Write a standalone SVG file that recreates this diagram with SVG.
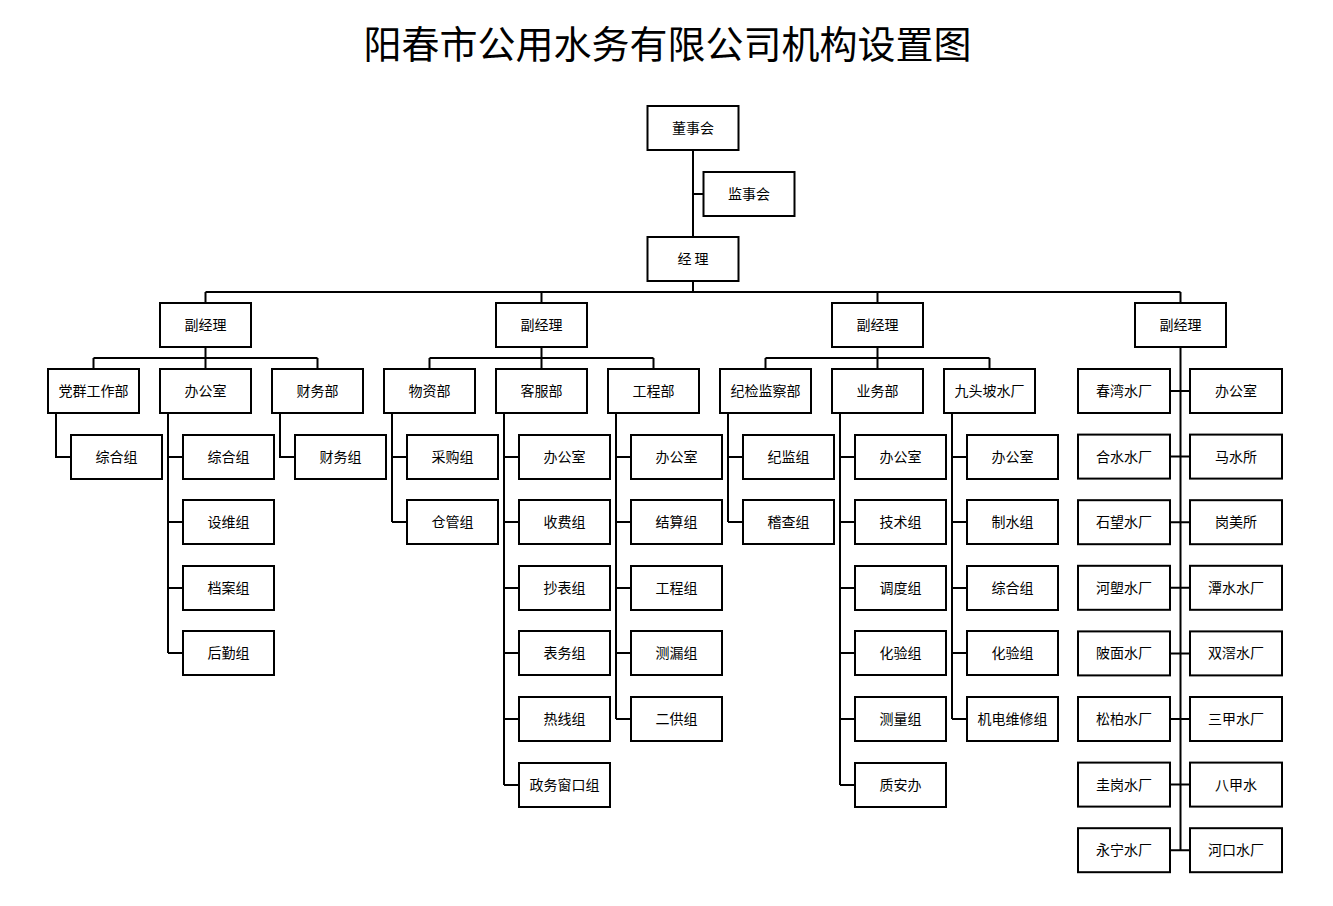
<svg xmlns="http://www.w3.org/2000/svg" width="1333" height="906" viewBox="0 0 1333 906">
<style>
.b{fill:#fff;stroke:#000;stroke-width:2}
.t{font-family:"Noto Sans CJK SC","Liberation Sans",sans-serif;font-size:14px;fill:#000;text-anchor:middle}
.title{font-family:"Noto Sans CJK SC","Liberation Sans",sans-serif;font-size:38px;fill:#000;text-anchor:middle}
.c{fill:none;stroke:#000;stroke-width:2}
</style>
<rect width="1333" height="906" fill="#fff"/>
<text class="title" x="667.5" y="58">阳春市公用水务有限公司机构设置图</text>
<g id="connectors" class="c">
<path d="M693 150V237M693 194H703.5M693 281V292M205.5 292H1180.5M205.5 292V303M541.5 292V303M877.5 292V303M1180.5 292V303"/>
<path d="M205.5 347V358M93.5 358H317.5M93.5 358V369M205.5 358V369M317.5 358V369"/>
<path d="M541.5 347V358M429.5 358H653.5M429.5 358V369M541.5 358V369M653.5 358V369"/>
<path d="M877.5 347V358M765.5 358H989.5M765.5 358V369M877.5 358V369M989.5 358V369"/>
<path d="M56 413V457H71"/>
<path d="M168 413V653M168 457H183M168 522H183M168 588H183M168 653H183"/>
<path d="M280 413V457H295"/>
<path d="M392 413V522M392 457H407M392 522H407"/>
<path d="M504 413V785M504 457H519M504 522H519M504 588H519M504 653H519M504 719H519M504 785H519"/>
<path d="M616 413V719M616 457H631M616 522H631M616 588H631M616 653H631M616 719H631"/>
<path d="M728 413V522M728 457H743M728 522H743"/>
<path d="M840 413V785M840 457H855M840 522H855M840 588H855M840 653H855M840 719H855M840 785H855"/>
<path d="M952 413V719M952 457H967M952 522H967M952 588H967M952 653H967M952 719H967"/>
<path d="M1180.5 347V850.5M1170 391H1190M1170 456.6H1190M1170 522.2H1190M1170 587.8H1190M1170 653.4H1190M1170 719H1190M1170 784.6H1190M1170 850.2H1190"/>
</g>
<g id="n-dongshihui"><rect class="b" x="647.5" y="106" width="91" height="44"/><text class="t" x="693" y="133">董事会</text></g>
<g id="n-jianshihui"><rect class="b" x="703.5" y="172" width="91" height="44"/><text class="t" x="749" y="199">监事会</text></g>
<g id="n-jingli"><rect class="b" x="647.5" y="237" width="91" height="44"/><text class="t" x="693" y="264">经 理</text></g>
<g id="n-fjl1"><rect class="b" x="160" y="303" width="91" height="44"/><text class="t" x="205.5" y="330">副经理</text></g>
<g id="n-fjl2"><rect class="b" x="496" y="303" width="91" height="44"/><text class="t" x="541.5" y="330">副经理</text></g>
<g id="n-fjl3"><rect class="b" x="832" y="303" width="91" height="44"/><text class="t" x="877.5" y="330">副经理</text></g>
<g id="n-fjl4"><rect class="b" x="1135" y="303" width="91" height="44"/><text class="t" x="1180.5" y="330">副经理</text></g>
<g id="n-dangqun"><rect class="b" x="48" y="369" width="91" height="44"/><text class="t" x="93.5" y="396">党群工作部</text></g>
<g id="n-bangongshi"><rect class="b" x="160" y="369" width="91" height="44"/><text class="t" x="205.5" y="396">办公室</text></g>
<g id="n-caiwubu"><rect class="b" x="272" y="369" width="91" height="44"/><text class="t" x="317.5" y="396">财务部</text></g>
<g id="n-wuzibu"><rect class="b" x="384" y="369" width="91" height="44"/><text class="t" x="429.5" y="396">物资部</text></g>
<g id="n-kefubu"><rect class="b" x="496" y="369" width="91" height="44"/><text class="t" x="541.5" y="396">客服部</text></g>
<g id="n-gongchengbu"><rect class="b" x="608" y="369" width="91" height="44"/><text class="t" x="653.5" y="396">工程部</text></g>
<g id="n-jijian"><rect class="b" x="720" y="369" width="91" height="44"/><text class="t" x="765.5" y="396">纪检监察部</text></g>
<g id="n-yewubu"><rect class="b" x="832" y="369" width="91" height="44"/><text class="t" x="877.5" y="396">业务部</text></g>
<g id="n-jiutoupo"><rect class="b" x="944" y="369" width="91" height="44"/><text class="t" x="989.5" y="396">九头坡水厂</text></g>
<g id="n-c0-1"><rect class="b" x="71" y="435" width="91" height="44"/><text class="t" x="116.5" y="462">综合组</text></g>
<g id="n-c1-1"><rect class="b" x="183" y="435" width="91" height="44"/><text class="t" x="228.5" y="462">综合组</text></g>
<g id="n-c1-2"><rect class="b" x="183" y="500" width="91" height="44"/><text class="t" x="228.5" y="527">设维组</text></g>
<g id="n-c1-3"><rect class="b" x="183" y="566" width="91" height="44"/><text class="t" x="228.5" y="593">档案组</text></g>
<g id="n-c1-4"><rect class="b" x="183" y="631" width="91" height="44"/><text class="t" x="228.5" y="658">后勤组</text></g>
<g id="n-c2-1"><rect class="b" x="295" y="435" width="91" height="44"/><text class="t" x="340.5" y="462">财务组</text></g>
<g id="n-c3-1"><rect class="b" x="407" y="435" width="91" height="44"/><text class="t" x="452.5" y="462">采购组</text></g>
<g id="n-c3-2"><rect class="b" x="407" y="500" width="91" height="44"/><text class="t" x="452.5" y="527">仓管组</text></g>
<g id="n-c4-1"><rect class="b" x="519" y="435" width="91" height="44"/><text class="t" x="564.5" y="462">办公室</text></g>
<g id="n-c4-2"><rect class="b" x="519" y="500" width="91" height="44"/><text class="t" x="564.5" y="527">收费组</text></g>
<g id="n-c4-3"><rect class="b" x="519" y="566" width="91" height="44"/><text class="t" x="564.5" y="593">抄表组</text></g>
<g id="n-c4-4"><rect class="b" x="519" y="631" width="91" height="44"/><text class="t" x="564.5" y="658">表务组</text></g>
<g id="n-c4-5"><rect class="b" x="519" y="697" width="91" height="44"/><text class="t" x="564.5" y="724">热线组</text></g>
<g id="n-c4-6"><rect class="b" x="519" y="763" width="91" height="44"/><text class="t" x="564.5" y="790">政务窗口组</text></g>
<g id="n-c5-1"><rect class="b" x="631" y="435" width="91" height="44"/><text class="t" x="676.5" y="462">办公室</text></g>
<g id="n-c5-2"><rect class="b" x="631" y="500" width="91" height="44"/><text class="t" x="676.5" y="527">结算组</text></g>
<g id="n-c5-3"><rect class="b" x="631" y="566" width="91" height="44"/><text class="t" x="676.5" y="593">工程组</text></g>
<g id="n-c5-4"><rect class="b" x="631" y="631" width="91" height="44"/><text class="t" x="676.5" y="658">测漏组</text></g>
<g id="n-c5-5"><rect class="b" x="631" y="697" width="91" height="44"/><text class="t" x="676.5" y="724">二供组</text></g>
<g id="n-c6-1"><rect class="b" x="743" y="435" width="91" height="44"/><text class="t" x="788.5" y="462">纪监组</text></g>
<g id="n-c6-2"><rect class="b" x="743" y="500" width="91" height="44"/><text class="t" x="788.5" y="527">稽查组</text></g>
<g id="n-c7-1"><rect class="b" x="855" y="435" width="91" height="44"/><text class="t" x="900.5" y="462">办公室</text></g>
<g id="n-c7-2"><rect class="b" x="855" y="500" width="91" height="44"/><text class="t" x="900.5" y="527">技术组</text></g>
<g id="n-c7-3"><rect class="b" x="855" y="566" width="91" height="44"/><text class="t" x="900.5" y="593">调度组</text></g>
<g id="n-c7-4"><rect class="b" x="855" y="631" width="91" height="44"/><text class="t" x="900.5" y="658">化验组</text></g>
<g id="n-c7-5"><rect class="b" x="855" y="697" width="91" height="44"/><text class="t" x="900.5" y="724">测量组</text></g>
<g id="n-c7-6"><rect class="b" x="855" y="763" width="91" height="44"/><text class="t" x="900.5" y="790">质安办</text></g>
<g id="n-c8-1"><rect class="b" x="967" y="435" width="91" height="44"/><text class="t" x="1012.5" y="462">办公室</text></g>
<g id="n-c8-2"><rect class="b" x="967" y="500" width="91" height="44"/><text class="t" x="1012.5" y="527">制水组</text></g>
<g id="n-c8-3"><rect class="b" x="967" y="566" width="91" height="44"/><text class="t" x="1012.5" y="593">综合组</text></g>
<g id="n-c8-4"><rect class="b" x="967" y="631" width="91" height="44"/><text class="t" x="1012.5" y="658">化验组</text></g>
<g id="n-c8-5"><rect class="b" x="967" y="697" width="91" height="44"/><text class="t" x="1012.5" y="724">机电维修组</text></g>
<g id="n-l1"><rect class="b" x="1078" y="369" width="92" height="44"/><text class="t" x="1124" y="396">春湾水厂</text></g>
<g id="n-l2"><rect class="b" x="1078" y="434.6" width="92" height="44"/><text class="t" x="1124" y="461.6">合水水厂</text></g>
<g id="n-l3"><rect class="b" x="1078" y="500.2" width="92" height="44"/><text class="t" x="1124" y="527.2">石望水厂</text></g>
<g id="n-l4"><rect class="b" x="1078" y="565.8" width="92" height="44"/><text class="t" x="1124" y="592.8">河塱水厂</text></g>
<g id="n-l5"><rect class="b" x="1078" y="631.4" width="92" height="44"/><text class="t" x="1124" y="658.4">陂面水厂</text></g>
<g id="n-l6"><rect class="b" x="1078" y="697" width="92" height="44"/><text class="t" x="1124" y="724">松柏水厂</text></g>
<g id="n-l7"><rect class="b" x="1078" y="762.6" width="92" height="44"/><text class="t" x="1124" y="789.6">圭岗水厂</text></g>
<g id="n-l8"><rect class="b" x="1078" y="828.2" width="92" height="44"/><text class="t" x="1124" y="855.2">永宁水厂</text></g>
<g id="n-r1"><rect class="b" x="1190" y="369" width="92" height="44"/><text class="t" x="1236" y="396">办公室</text></g>
<g id="n-r2"><rect class="b" x="1190" y="434.6" width="92" height="44"/><text class="t" x="1236" y="461.6">马水所</text></g>
<g id="n-r3"><rect class="b" x="1190" y="500.2" width="92" height="44"/><text class="t" x="1236" y="527.2">岗美所</text></g>
<g id="n-r4"><rect class="b" x="1190" y="565.8" width="92" height="44"/><text class="t" x="1236" y="592.8">潭水水厂</text></g>
<g id="n-r5"><rect class="b" x="1190" y="631.4" width="92" height="44"/><text class="t" x="1236" y="658.4">双滘水厂</text></g>
<g id="n-r6"><rect class="b" x="1190" y="697" width="92" height="44"/><text class="t" x="1236" y="724">三甲水厂</text></g>
<g id="n-r7"><rect class="b" x="1190" y="762.6" width="92" height="44"/><text class="t" x="1236" y="789.6">八甲水</text></g>
<g id="n-r8"><rect class="b" x="1190" y="828.2" width="92" height="44"/><text class="t" x="1236" y="855.2">河口水厂</text></g>
</svg>
